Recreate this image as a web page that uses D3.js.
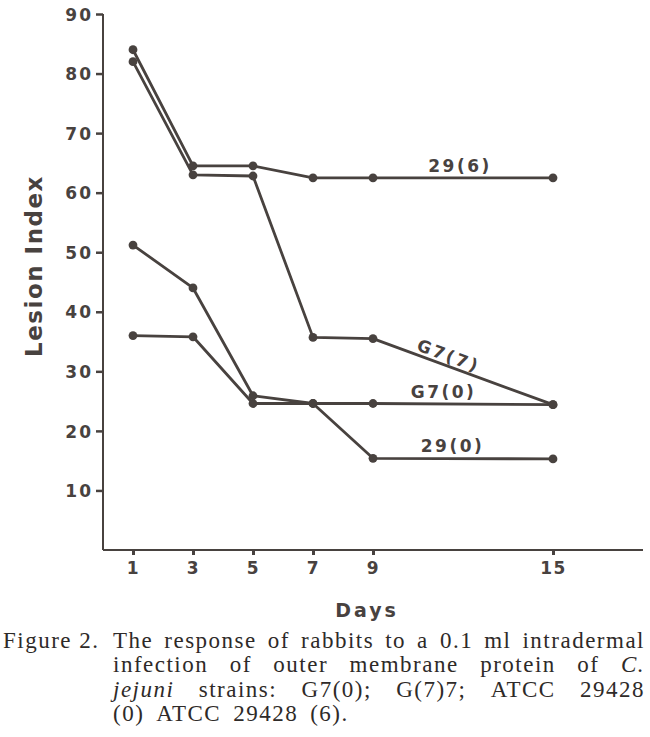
<!DOCTYPE html>
<html>
<head>
<meta charset="utf-8">
<script src="https://cdn.jsdelivr.net/npm/d3@7"></script>
<style>
html,body{margin:0;padding:0;background:#fff;}
svg{display:block;}
</style>
</head>
<body>
<svg id="chart" width="650" height="737"></svg>
<script>
// ---- data ----
const days = [1, 3, 5, 7, 9, 15];
const s29_6 = [84, 64.5, 64.5, 62.5, 62.5, 62.5];
const sG7_7 = [82, 63, 62.8, 35.7, 35.5, 24.4];
const sG7_0 = [36, 35.8, 24.6, 24.6, 24.6, 24.4];
const s29_0 = [51.2, 44, 25.9, 24.6, 15.4, 15.3];
const seriesNames = ["29(6)", "G7(7)", "G7(0)", "29(0)"];
const yTicks = [10, 20, 30, 40, 50, 60, 70, 80, 90];
const xTicks = [1, 3, 5, 7, 9, 15];

const ink = "#48423f";
const svg = d3.select("#chart");

const x = d3.scaleLinear().domain([0, 18]).range([103, 643]);
const y = d3.scaleLinear().domain([0, 90]).range([550, 14]);

const sans = "'DejaVu Sans', sans-serif";

// axes
const yAxis = d3.axisLeft(y).tickValues(yTicks).tickSize(7).tickPadding(3).tickSizeOuter(0);
const gy = svg.append("g").attr("transform", `translate(${x(0)},0)`).call(yAxis);
gy.select(".domain").attr("stroke", ink).attr("stroke-width", 2).attr("d", `M0,${y(90)}V${y(0)}`);
gy.selectAll(".tick line").attr("stroke", ink).attr("stroke-width", 2.5);
gy.selectAll(".tick text").attr("fill", ink).attr("font-family", sans).attr("font-weight", "bold")
  .attr("font-size", 17).attr("letter-spacing", 2).attr("dy", "0.36em");

const xAxis = d3.axisBottom(x).tickValues(xTicks).tickSize(5).tickPadding(7).tickSizeOuter(0);
const gx = svg.append("g").attr("transform", `translate(0,${y(0)})`).call(xAxis);
gx.select(".domain").attr("stroke", ink).attr("stroke-width", 2).attr("d", `M${x(0)},0H${x(18)}`);
gx.selectAll(".tick line").attr("stroke", ink).attr("stroke-width", 3);
gx.selectAll(".tick text").attr("fill", ink).attr("font-family", sans).attr("font-weight", "bold")
  .attr("font-size", 17).attr("letter-spacing", 1.5);

// axis titles
svg.append("text").attr("x", 367).attr("y", 617).attr("text-anchor", "middle")
  .attr("font-family", sans).attr("font-weight", "bold").attr("font-size", 19)
  .attr("letter-spacing", 3).attr("fill", ink).text("Days");
svg.append("text").attr("transform", "translate(42,266) rotate(-90)").attr("text-anchor", "middle")
  .attr("font-family", sans).attr("font-weight", "bold").attr("font-size", 23)
  .attr("letter-spacing", 1.5).attr("fill", ink).text("Lesion Index");

// lines
const allSeries = [s29_6, sG7_7, sG7_0, s29_0];
const line = d3.line().x((d, i) => x(days[i])).y(d => y(d));
allSeries.forEach(s => {
  svg.append("path").datum(s).attr("d", line).attr("fill", "none")
    .attr("stroke", ink).attr("stroke-width", 2.8).attr("stroke-linejoin", "round");
});
allSeries.forEach(s => {
  svg.append("g").selectAll("circle").data(s).join("circle")
    .attr("cx", (d, i) => x(days[i])).attr("cy", d => y(d)).attr("r", 4.4).attr("fill", ink);
});

// series labels
const lab = (t, xx, yy, rot) => svg.append("text")
  .attr("transform", `translate(${xx},${yy}) rotate(${rot || 0})`).attr("text-anchor", "middle")
  .attr("font-family", sans).attr("font-weight", "bold").attr("font-size", 17)
  .attr("letter-spacing", 2.5).attr("fill", ink).text(t);
lab(seriesNames[0], x(11.9), y(62.5) - 6);
const ang = Math.atan2(y(sG7_7[5]) - y(sG7_7[4]), x(15) - x(9)) * 180 / Math.PI;
lab(seriesNames[1], x(11.45), y(30.0) - 10, ang);
lab(seriesNames[2], x(11.35), y(24.5) - 6);
lab(seriesNames[3], x(11.65), y(15.4) - 6);

// caption (justified serif)
const serif = "'Liberation Serif', 'Times New Roman', serif";
const capX = 113, capR = 645, capFs = 23, capLs = 1.5;
const capInk = "#2e2a28";
svg.append("text").attr("x", 3).attr("y", 648).attr("font-family", serif).attr("font-size", capFs)
  .attr("letter-spacing", capLs).attr("fill", capInk).text("Figure 2.");
const capLines = [
  {y: 648, just: true, words: [["The"],["response"],["of"],["rabbits"],["to"],["a"],["0.1"],["ml"],["intradermal"]]},
  {y: 672, just: true, words: [["infection"],["of"],["outer"],["membrane"],["protein"],["of"],["C.", true]]},
  {y: 697, just: true, words: [["jejuni", true],["strains:"],["G7(0);"],["G(7)7;"],["ATCC"],["29428"]]},
  {y: 721, just: false, words: [["(0)"],["ATCC"],["29428"],["(6)."]]}
];
capLines.forEach(L => {
  const nodes = L.words.map(w => svg.append("text").attr("y", L.y).attr("font-family", serif)
    .attr("font-size", capFs).attr("letter-spacing", capLs).attr("fill", capInk)
    .attr("font-style", w[1] ? "italic" : "normal").text(w[0]));
  const widths = nodes.map(n => n.node().getComputedTextLength());
  const total = d3.sum(widths);
  const gap = L.just ? (capR - capX - total) / (nodes.length - 1) : 12;
  let cx = capX;
  nodes.forEach((n, i) => { n.attr("x", cx); cx += widths[i] + gap; });
});
</script>
</body>
</html>
